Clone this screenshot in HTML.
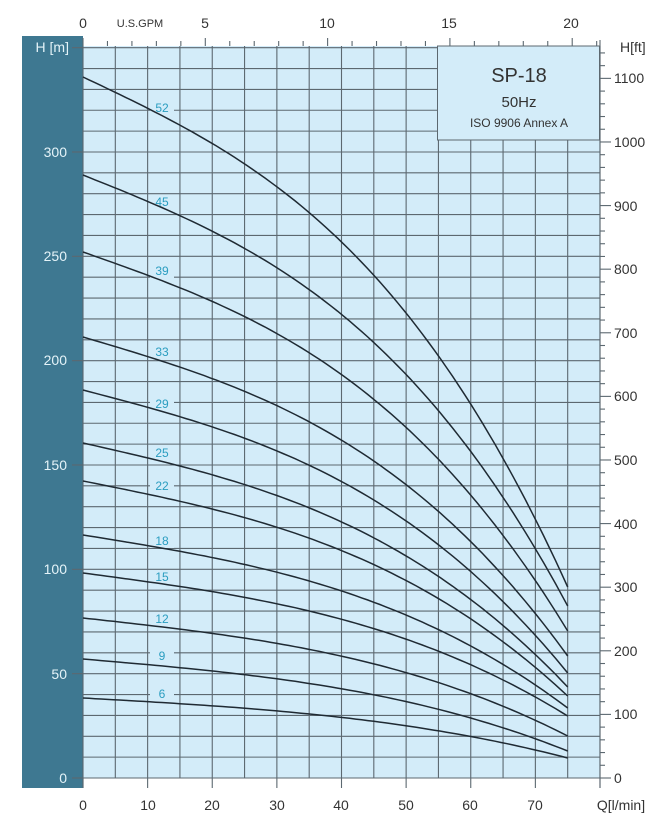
<!DOCTYPE html>
<html><head><meta charset="utf-8"><style>
body{margin:0;background:#fff;}
svg{display:block;font-family:"Liberation Sans",sans-serif;}
</style></head><body>
<svg id="s" width="659" height="815" viewBox="0 0 659 815" xmlns="http://www.w3.org/2000/svg">
<rect x="22" y="36" width="61" height="752" fill="#3e7891"/>
<rect x="83" y="46" width="517" height="732" fill="#d3ecf9"/>
<g id="grid" stroke="#5c6870" stroke-width="1.1" fill="none"></g>
<g id="masks" fill="#d3ecf9"></g>
<g id="curves" stroke="#1f2a33" stroke-width="1.5" fill="none"></g>
<rect x="437.5" y="46" width="162" height="94" fill="#d3ecf9" stroke="#5c6870" stroke-width="1"/>
<g font-size="20" fill="#333" text-anchor="middle">
<text x="519" y="82">SP-18</text>
<text x="519" y="107" font-size="15">50Hz</text>
<text x="519" y="127" font-size="12">ISO 9906 Annex A</text>
</g>
<g id="lbls" font-size="12" fill="#2a9dc0" text-anchor="middle">
<text x="162" y="112">52</text><text x="162" y="206">45</text><text x="162" y="275">39</text>
<text x="162" y="356">33</text><text x="162" y="408">29</text><text x="162" y="457">25</text>
<text x="162" y="490">22</text><text x="162" y="545">18</text><text x="162" y="581">15</text>
<text x="162" y="623">12</text><text x="162" y="660">9</text><text x="162" y="698">6</text>
</g>
<g font-size="14" fill="#e4f3f8" text-anchor="end">
<text x="69" y="52">H [m]</text>
<text x="67" y="157">300</text><text x="67" y="261">250</text><text x="67" y="365">200</text>
<text x="67" y="470">150</text><text x="67" y="574">100</text><text x="67" y="679">50</text>
<text x="67" y="783">0</text>
</g>
<g font-size="14" fill="#333" text-anchor="middle">
<text x="83" y="28">0</text><text x="140" y="27" font-size="11">U.S.GPM</text>
<text x="205" y="28">5</text><text x="327" y="28">10</text><text x="449" y="28">15</text><text x="571" y="28">20</text>
<text x="83" y="810">0</text><text x="148" y="810">10</text><text x="212" y="810">20</text>
<text x="277" y="810">30</text><text x="341" y="810">40</text><text x="406" y="810">50</text>
<text x="470" y="810">60</text><text x="535" y="810">70</text>
<text x="621" y="810">Q[l/min]</text>
</g>
<g font-size="14" fill="#333" text-anchor="start">
<text x="620" y="52">H[ft]</text>
<text x="614" y="83">1100</text><text x="614" y="147">1000</text><text x="614" y="211">900</text>
<text x="614" y="274">800</text><text x="614" y="338">700</text><text x="614" y="401">600</text>
<text x="614" y="465">500</text><text x="614" y="529">400</text><text x="614" y="592">300</text>
<text x="614" y="656">200</text><text x="614" y="719">100</text><text x="614" y="783">0</text>
</g>
</svg>
<script>
var NS="http://www.w3.org/2000/svg",g=document.getElementById('grid'),c=document.getElementById('curves'),m=document.getElementById('masks');
function L(x1,y1,x2,y2,p){var l=document.createElementNS(NS,'line');l.setAttribute('x1',x1);l.setAttribute('y1',y1);l.setAttribute('x2',x2);l.setAttribute('y2',y2);(p||g).appendChild(l);}
var X=function(q){return 83+q*6.4625}, Y=function(h){return 778-h*2.0867};
for(var h=0;h<=350;h+=10){var y=Y(h);L(83,y,600,y);}
for(var q=5;q<=80;q+=5){L(X(q),46,X(q),778);}
for(var q=0;q<=80;q+=10){L(X(q),778,X(q),788);}
for(var h=0;h<=300;h+=50){L(72,Y(h),83,Y(h));}
L(72,Y(350),83,Y(350));
L(600,40,600,788);L(83,46,83,788);
for(var f=0;f<=1140;f+=20){var y=778-f*0.3048*2.0867;L(600,y,f%100==0?611:605,y);}
for(var gp=0;gp<=21;gp++){var x=83+gp*3.785*6.4625;L(x,46,x,gp%5==0?38:41);}
var lb=document.querySelectorAll('#lbls text');
function gf(t){return 0.45*t+0.55*t*t*t;}
var cv=[[77,587],[175,606],[252,631],[337,656],[390,673],[443,687],[481,696],[535,708],[573,716],[618,736],[659,751],[698,758]];
cv.forEach(function(a){var d='';for(var i=0;i<=80;i++){var t=i/80;d+=(i?'L':'M')+X(75*t).toFixed(1)+','+(a[0]+(a[1]-a[0])*gf(t)).toFixed(1);}var p=document.createElementNS(NS,'path');p.setAttribute('d',d);c.appendChild(p);});
lb.forEach(function(t){var r=document.createElementNS(NS,'rect');r.setAttribute('x',150);r.setAttribute('y',+t.getAttribute('y')-11);r.setAttribute('width',24);r.setAttribute('height',14);m.appendChild(r);});
</script>
</body></html>
